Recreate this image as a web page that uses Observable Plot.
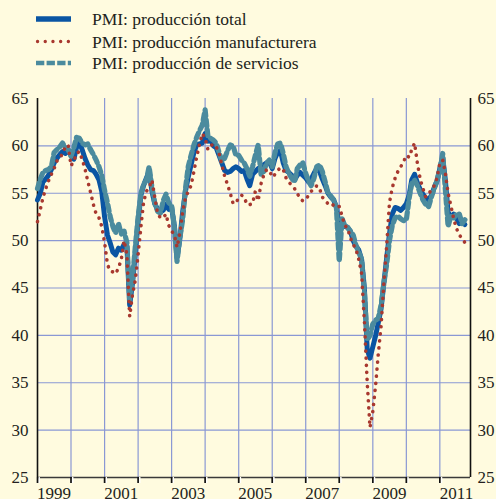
<!DOCTYPE html>
<html>
<head>
<meta charset="utf-8">
<script src="https://cdn.jsdelivr.net/npm/d3@7"></script>
<script src="https://cdn.jsdelivr.net/npm/@observablehq/plot@0.6"></script>
<style>
  html, body { margin: 0; padding: 0; background: #fffbdf; }
  #wrap { width: 496px; height: 499px; overflow: hidden; background: #fffbdf; }
  #legend { display: block; }
  #chart svg { display: block; }
  text { font-family: "Liberation Serif", "Times New Roman", Tinos, Times, "DejaVu Serif", serif; }
</style>
</head>
<body>
<div id="wrap">
  <svg id="legend" width="496" height="86"></svg>
  <div id="chart"></div>
</div>
<script>
// Series labels
const seriesNames = ["PMI: producción total", "PMI: producción manufacturera", "PMI: producción de servicios"];

// Monthly values, January 1999 onwards
const startYear = 1999;
const total = [
  54.3, 55.0, 56.2, 56.5, 56.9, 57.5, 58.2, 58.7, 59.1, 59.4, 59.2, 59.6,
  59.0, 58.6, 59.8, 60.4, 59.6, 58.7, 58.0, 57.5, 57.4, 57.0, 56.4, 55.2,
  52.5, 50.6, 49.8, 48.8, 48.5, 49.2, 49.0, 49.6, 49.4, 43.2, 45.5, 48.6,
  52.0, 54.8, 55.8, 56.6, 57.3, 55.2, 53.9, 53.3, 53.0, 53.2, 53.8, 53.3,
  53.5, 51.5, 48.2, 50.2, 53.0, 55.2, 56.7, 58.0, 59.3, 60.1, 60.2, 60.3,
  61.3, 60.5, 60.6, 60.0, 59.8, 59.0, 58.2, 57.4, 57.2, 57.3, 57.6, 57.8,
  57.6, 57.3, 57.4, 56.5, 55.8, 57.0, 57.3, 57.6, 57.8, 58.0, 58.2, 58.3,
  57.6, 58.7, 59.3, 59.5, 58.2, 57.4, 57.2, 56.9, 56.4, 56.9, 57.2, 56.9,
  56.6, 56.2, 56.5, 57.1, 57.6, 57.3, 56.5, 55.8, 55.0, 54.6, 54.3, 53.5,
  51.6, 52.2, 51.5, 51.4, 51.0, 50.0, 49.4, 49.0, 48.0, 45.0, 38.5, 37.6,
  38.8, 40.0, 41.3, 42.8, 45.5, 48.2, 50.7, 52.8, 53.5, 53.4, 53.2, 53.5,
  53.9, 54.8, 56.4, 57.0, 56.1, 55.4, 54.9, 54.5, 54.3, 54.8, 55.6, 56.3,
  57.6, 58.8, 56.5, 53.0, 52.4, 52.8, 52.4, 51.8, 52.0, 51.7
];
const manufacturing = [
  52.0, 53.3, 54.5, 55.5, 56.3, 57.0, 57.6, 58.4, 58.7, 59.2, 59.9, 60.1,
  57.9, 58.4, 59.2, 59.4, 58.6, 57.6, 56.3, 55.1, 53.8, 52.8, 52.4, 51.5,
  49.8, 47.5, 46.8, 46.7, 46.5, 47.1, 48.0, 50.0, 48.5, 42.0, 44.3, 45.8,
  48.5, 51.5, 54.0, 55.2, 55.6, 56.4, 54.6, 52.9, 52.4, 52.4, 52.8, 51.6,
  51.0, 50.6, 49.3, 50.8, 53.0, 54.5, 55.2, 55.8, 57.3, 58.8, 60.2, 61.3,
  60.8, 59.6, 60.0, 60.2, 59.9, 59.2, 58.0, 56.8, 55.9, 55.0, 53.9, 54.0,
  54.5, 54.8, 54.6, 53.8, 53.8, 53.9, 55.2, 54.2, 56.0, 56.9, 57.5, 57.4,
  56.7, 57.0, 57.4, 57.7, 57.5, 56.6, 56.2, 55.8, 55.5, 55.0, 54.4, 54.2,
  54.3, 54.8, 55.2, 55.4, 55.8, 55.5, 54.6, 54.2, 53.9, 54.0, 53.7, 53.5,
  53.6, 52.6, 51.6, 51.3, 50.3, 49.6, 49.1, 48.0, 46.5, 41.5, 35.0, 30.3,
  32.0, 34.8, 38.0, 41.0, 45.5, 49.5, 54.0, 55.6, 56.6, 57.3, 57.8, 58.3,
  59.0, 58.8, 59.6, 60.3, 58.2, 56.5, 55.5, 54.6, 55.0, 55.3, 55.8, 56.6,
  58.2, 58.5, 57.2, 55.0, 53.7, 52.3, 51.3, 50.6, 50.2, 49.8
];
const services = [
  55.5, 56.5, 57.2, 57.4, 57.5, 57.8, 59.3, 59.6, 59.9, 60.3, 59.8, 59.6,
  58.9, 59.8, 60.9, 60.8, 60.3, 60.1, 60.2, 59.6, 59.1, 58.5, 57.8, 56.9,
  55.3, 54.0, 52.6, 51.5, 50.8, 51.8, 50.7, 51.0, 49.8, 43.8, 46.0, 49.3,
  52.5, 55.0, 55.9, 56.4, 57.8, 55.6, 54.0, 53.1, 52.9, 54.2, 54.9, 54.0,
  53.7, 51.3, 47.8, 50.3, 52.2, 55.5, 57.8, 59.0, 60.1, 60.9, 61.6, 62.2,
  63.8, 61.0, 60.8, 60.6, 60.3, 59.3, 58.4, 58.7, 59.5, 60.1, 60.0, 59.0,
  59.0, 58.5, 58.2, 57.6, 56.8, 57.8, 59.0, 60.1, 57.0, 57.3, 58.2, 58.5,
  57.8, 59.3, 60.2, 60.3, 59.2, 57.8, 57.1, 56.6, 56.2, 57.6, 58.0, 58.2,
  57.1, 56.3, 55.8, 56.6, 57.8, 58.0, 57.3, 56.2, 55.0, 54.7, 54.3, 53.5,
  47.8, 52.3, 51.6, 51.4, 51.0, 50.6, 49.5, 48.8, 48.0, 44.5, 39.5, 40.0,
  41.2, 41.6, 41.8, 43.2, 45.5, 47.5, 50.0, 51.6, 52.4, 52.6, 52.3, 52.1,
  52.2, 54.5, 56.0, 56.4, 55.8, 55.0, 54.3, 53.8, 53.6, 54.6, 55.5, 56.3,
  57.5, 59.2, 55.5, 51.5, 52.6, 52.4, 52.8, 52.8, 51.8, 52.2
];

// Axis ticks
const yTicks = [25, 30, 35, 40, 45, 50, 55, 60, 65];
const gridYValues = [30, 35, 40, 45, 50, 55, 60];
const years = [1999, 2000, 2001, 2002, 2003, 2004, 2005, 2006, 2007, 2008, 2009, 2010, 2011];
const labelYears = [1999, 2001, 2003, 2005, 2007, 2009, 2011];

const colTotal = "#0a55a3";
const colManu = "#a8382f";
const colServ = "#4b8b9e";
const gridCol = "#8a98d4";
const textCol = "#231f20";
const font = "Liberation Serif, Times New Roman, Tinos, Times, DejaVu Serif, serif";

const dt = (y, m, d = 1) => new Date(Date.UTC(y, m, d));
const data = total.map((v, i) => ({
  date: dt(startYear, i),
  total: v,
  manu: manufacturing[i],
  serv: services[i]
}));
const yearDates = years.map(y => dt(y, 0));
const labelDates = labelYears.map(y => dt(y, 6));
const xDomain = [dt(1999, 0), dt(2011, 11)];

// Legend
const legend = d3.select("#legend");
const legendRows = [
  {name: seriesNames[0], color: colTotal, width: 5.3, dash: null, cap: "butt", y: 19},
  {name: seriesNames[1], color: colManu, width: 3.3, dash: "0.1,7.6", cap: "round", y: 41.5},
  {name: seriesNames[2], color: colServ, width: 4.6, dash: "8.3,2.3", cap: "butt", y: 63}
];
legendRows.forEach(r => {
  const line = legend.append("line")
    .attr("x1", r.cap === "round" ? 37.5 : 36).attr("x2", 71)
    .attr("y1", r.y).attr("y2", r.y)
    .attr("stroke", r.color).attr("stroke-width", r.width)
    .attr("stroke-linecap", r.cap);
  if (r.dash) line.attr("stroke-dasharray", r.dash);
  legend.append("text")
    .attr("x", 92).attr("y", r.y + 6)
    .attr("fill", textCol)
    .attr("font-family", font)
    .attr("font-size", "17.5")
    .text(r.name);
});

const chart = Plot.plot({
  width: 496,
  height: 413,
  marginTop: 12,
  marginBottom: 22,
  marginLeft: 37,
  marginRight: 26,
  style: {background: "transparent", fontFamily: font, fontSize: "17px", color: textCol},
  x: {type: "utc", domain: xDomain, axis: null},
  y: {domain: [25, 65], axis: null},
  marks: [
    Plot.ruleY(gridYValues, {stroke: gridCol, strokeWidth: 1.2}),
    Plot.ruleX(yearDates.slice(1), {stroke: gridCol, strokeWidth: 1.2}),
    Plot.ruleY([25], {stroke: "#3a3a3a", strokeWidth: 1.5}),
    Plot.ruleX(xDomain, {stroke: "#111", strokeWidth: 1.6}),
    Plot.axisX({ticks: yearDates, tickSize: 6, tickFormat: () => "", stroke: "white", strokeWidth: 1.6, dx: 1.6, label: null}),
    Plot.axisX({ticks: yearDates, tickSize: 6, tickFormat: () => "", stroke: "#111", strokeWidth: 1.7, label: null}),
    Plot.axisX({ticks: labelDates, tickSize: 0, tickPadding: 9, tickFormat: d => String(d.getUTCFullYear()), fill: textCol, label: null, fontSize: 17, fontFamily: font}),
    Plot.axisY({ticks: yTicks, anchor: "left", tickSize: 0, tickPadding: 9, fill: textCol, label: null, fontSize: 17, fontFamily: font}),
    Plot.axisY({ticks: yTicks, anchor: "right", tickSize: 0, tickPadding: 7, fill: textCol, label: null, fontSize: 17, fontFamily: font}),
    Plot.line(data, {x: "date", y: "total", stroke: colTotal, strokeWidth: 5, strokeLinejoin: "round"}),
    Plot.line(data, {x: "date", y: "serv", stroke: colServ, strokeWidth: 5.2, strokeDasharray: "6,4"}),
    Plot.line(data, {x: "date", y: "manu", stroke: colManu, strokeWidth: 3.6, strokeDasharray: "0.1,7", strokeLinecap: "round"})
  ]
});
document.getElementById("chart").appendChild(chart);
</script>
</body>
</html>
